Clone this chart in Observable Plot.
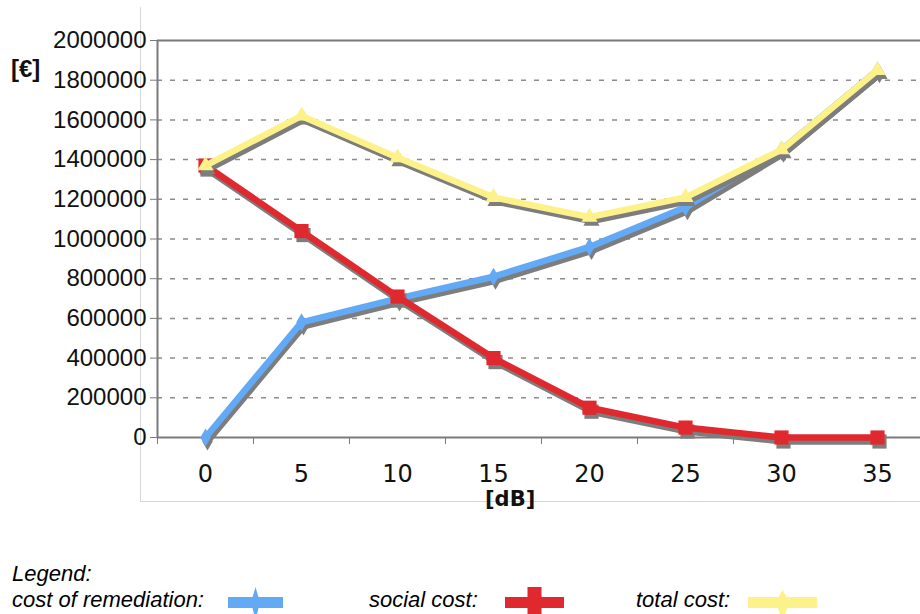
<!DOCTYPE html>
<html>
<head>
<meta charset="utf-8">
<script src="https://cdn.jsdelivr.net/npm/d3@7"></script>
<script src="https://cdn.jsdelivr.net/npm/@observablehq/plot@0.6"></script>
<style>
  body { margin: 0; background: #fff; }
  #wrap { position: relative; width: 920px; height: 614px; overflow: hidden; background: #fff; }
  #box { position: absolute; left: 140px; top: 7px; width: 820px; height: 494px;
         border-left: 1.5px solid #d6d6d6; border-bottom: 1.5px solid #d6d6d6; }
  #chart { position: absolute; left: 0; top: 0; }
  #ylab { position: absolute; left: 11px; top: 57px; font: bold 24px "Liberation Sans", Arial, sans-serif; line-height: 1; color: #111; }
  #xlab { position: absolute; left: 485px; top: 489px; font: bold 21px "DejaVu Sans", sans-serif; line-height: 1; color: #111; }
  .lg { position: absolute; font: italic 22px "Liberation Sans", Arial, sans-serif; line-height: 22px; color: #000; white-space: nowrap; }
  #legsvg { position: absolute; left: 0; top: 580px; }
</style>
</head>
<body>
<div id="wrap">
  <div id="box"></div>
  <div id="chart"></div>
  <div id="ylab">[€]</div>
  <div id="xlab">[dB]</div>
  <div class="lg" style="left:12px; top:563px;">Legend:</div>
  <div id="legend"></div>
</div>
<script>
// ---- data ----
const categories = [0, 5, 10, 15, 20, 25, 30, 35];
const remediation = [0, 580000, 700000, 810000, 960000, 1160000, 1450000, 1850000];
const social = [1370000, 1040000, 710000, 400000, 150000, 50000, 0, 0];
const total = [1370000, 1620000, 1410000, 1210000, 1110000, 1210000, 1450000, 1850000];
const yTicks = [0, 200000, 400000, 600000, 800000, 1000000, 1200000, 1400000, 1600000, 1800000, 2000000];
const seriesNames = ["cost of remediation", "social cost", "total cost"];
const legendLabels = ["cost of remediation:", "social cost:", "total cost:"];

// ---- styles ----
const colors = ["#62a9f6", "#e0292f", "#fdf28a"];
const symbols = ["diamond", "square", "triangle"];
const radii = [5.5, 8, 6];
const shadow = "#7d7d7d";
const axisColor = "#7a7a7a";

const seriesValues = [remediation, social, total];
const series = seriesNames.map((name, i) =>
  categories.map((c, j) => ({ series: name, x: c, y: seriesValues[i][j] })));

const step = categories[1] - categories[0];
const xMin = categories[0] - step / 2;
const xMax = categories[categories.length - 1] + step / 2;
const yMax = yTicks[yTicks.length - 1];
const boundaries = [...categories.map(c => c - step / 2), xMax];

const marks = [
  Plot.ruleY(yTicks.filter(v => v > 0 && v < yMax), {
    x1: xMin, x2: xMax, stroke: "#8c8c8c", strokeWidth: 1.5, strokeDasharray: "5,8"
  }),
  Plot.ruleY([yMax], { x1: xMin, x2: xMax, stroke: axisColor, strokeWidth: 2 }),
  Plot.ruleY([0], { x1: xMin, x2: xMax, stroke: axisColor, strokeWidth: 2 }),
  Plot.ruleX([xMin], { y1: 0, y2: yMax, stroke: axisColor, strokeWidth: 2 }),
  Plot.axisY(yTicks, {
    anchor: "left", tickSize: 7, tickPadding: 4, stroke: axisColor, fill: "#111",
    fontSize: 24, fontFamily: "Liberation Sans, Arial, sans-serif",
    tickFormat: d => String(d), label: null
  }),
  Plot.axisX(boundaries, {
    anchor: "bottom", tickSize: 7, stroke: axisColor, tickFormat: () => "", label: null
  }),
  Plot.axisX(categories, {
    anchor: "bottom", tickSize: 0, tickPadding: 27, fill: "#111",
    fontSize: 24, fontFamily: "DejaVu Sans, sans-serif",
    tickFormat: d => String(d), label: null
  })
];

series.forEach((data, i) => {
  marks.push(
    Plot.line(data, { x: "x", y: "y", stroke: shadow, strokeWidth: 6.5, dx: 2, dy: 4, strokeLinejoin: "miter" }),
    Plot.dot(data, { x: "x", y: "y", symbol: symbols[i], r: radii[i], fill: shadow, dx: 2, dy: 4 }),
    Plot.line(data, { x: "x", y: "y", stroke: colors[i], strokeWidth: 6.5, strokeLinejoin: "miter" }),
    Plot.dot(data, { x: "x", y: "y", symbol: symbols[i], r: radii[i], fill: colors[i] })
  );
});

const chart = Plot.plot({
  width: 920,
  height: 540,
  marginLeft: 157,
  marginRight: 0,
  marginTop: 40,
  marginBottom: 103,
  x: { type: "linear", domain: [xMin, xMax], range: [157, 925] },
  y: { domain: [0, yMax] },
  style: { background: "transparent", overflow: "visible" },
  marks
});
document.getElementById("chart").appendChild(chart);

// ---- legend ----
const legendPos = [
  { text: 12, bar: [228, 283], spikeW: 9, spikeTop: 7, spikeBot: 40, shape: "diamond" },
  { text: 369, bar: [505, 564], spikeW: 14, spikeTop: 7, spikeBot: 40, shape: "rect" },
  { text: 636, bar: [748, 817], spikeW: 14, spikeTop: 10, spikeBot: 40, shape: "diamond" }
];
const legend = document.getElementById("legend");
legendLabels.forEach((t, i) => {
  const d = document.createElement("div");
  d.className = "lg";
  d.style.left = legendPos[i].text + "px";
  d.style.top = "589px";
  d.textContent = t;
  legend.appendChild(d);
});
const lsvg = d3.select(legend).append("svg").attr("id", "legsvg").attr("width", 920).attr("height", 34);
legendPos.forEach((p, i) => {
  const g = lsvg.append("g").attr("fill", colors[i]);
  g.append("rect").attr("x", p.bar[0]).attr("y", 17).attr("width", p.bar[1] - p.bar[0]).attr("height", 11);
  const cx = (p.bar[0] + p.bar[1]) / 2;
  if (p.shape === "rect") {
    g.append("rect").attr("x", cx - p.spikeW / 2).attr("y", p.spikeTop).attr("width", p.spikeW).attr("height", p.spikeBot - p.spikeTop);
  } else {
    const mid = 22.5;
    g.append("path").attr("d",
      `M${cx},${p.spikeTop}L${cx + p.spikeW / 2},${mid}L${cx},${p.spikeBot}L${cx - p.spikeW / 2},${mid}Z`);
  }
});
</script>
</body>
</html>
